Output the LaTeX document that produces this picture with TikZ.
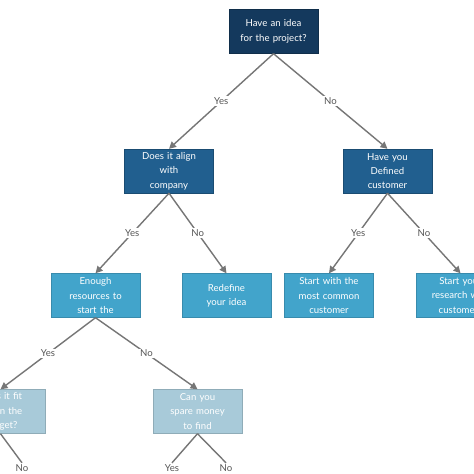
\documentclass[tikz,border=0pt]{standalone}
\usepackage{fontspec}
\setmainfont{Lato}
\usetikzlibrary{arrows.meta}
\definecolor{cdark}{RGB}{20,57,93}
\definecolor{cmed}{RGB}{33,95,143}
\definecolor{clight}{RGB}{66,164,203}
\definecolor{cpale}{RGB}{168,202,217}
\definecolor{cline}{RGB}{118,118,118}
\definecolor{clabel}{RGB}{85,85,85}
\tikzset{
  box/.style={rectangle, minimum width=89pt, minimum height=44pt, text width=86pt,
    align=center, text=white, inner sep=0pt, font=\fontsize{9.6}{14.4}\selectfont},
  dark/.style={box, fill=cdark, draw=cdark!80!black, line width=0.4pt},
  med/.style={box, fill=cmed, draw=cmed!80!black, line width=0.4pt},
  light/.style={box, fill=clight, draw=clight!85!black, line width=0.4pt},
  pale/.style={box, fill=cpale, draw=cpale!85!black, line width=0.4pt},
  conn/.style={draw=cline, line width=1.4pt},
  arr/.style={conn, -{Triangle[length=7pt,width=7pt]}},
  lab/.style={fill=white, text=clabel, inner sep=1.5pt, font=\fontsize{9.6}{11}\selectfont},
}
\begin{document}
\begin{tikzpicture}[x=1pt,y=-1pt]
\useasboundingbox (0,0) rectangle (474,474);
\clip (0,0) rectangle (474,474);
\fill[white] (0,0) rectangle (474,474);
\node[dark] (top) at (273.5,31.5) {Have an idea\\for the project?};
\node[med] (align) at (169,171) {Does it align\\with\\company};
\node[med] (defined) at (387.5,171) {Have you\\Defined\\customer};
\node[light] (enough) at (95.5,295.5) {Enough\\resources to\\start the};
\node[light] (redefine) at (226.5,295.5) {Redefine\\your idea};
\node[light] (startwith) at (329,295.5) {Start with the\\most common\\customer};
\node[light] (startyour) at (460.5,295.5) {Start your\\research with\\customers};
\node[pale] (fit) at (0.5,411.5) {Does it fit\\within the\\budget?};
\node[pale] (spare) at (197.5,411.5) {Can you\\spare money\\to find};
\node[lab] (noA) at (22,468) {No};
\node[lab] (yesB) at (172,468) {Yes};
\node[lab] (noB) at (226,468) {No};

\draw[arr] (top.south) -- node[lab]{Yes} (align.north);
\draw[arr] (top.south) -- node[lab]{No} (defined.north);
\draw[arr] (align.south) -- node[lab]{Yes} (enough.north);
\draw[arr] (align.south) -- node[lab]{No} (redefine.north);
\draw[arr] (defined.south) -- node[lab]{Yes} (startwith.north);
\draw[arr] (defined.south) -- node[lab]{No} (startyour.north);
\draw[arr] (enough.south) -- node[lab]{Yes} (fit.north);
\draw[arr] (enough.south) -- node[lab]{No} (spare.north);
\draw[conn] (fit.south) -- (noA.north);
\draw[conn] (spare.south) -- (yesB.north);
\draw[conn] (spare.south) -- (noB.north);
\end{tikzpicture}
\end{document}
